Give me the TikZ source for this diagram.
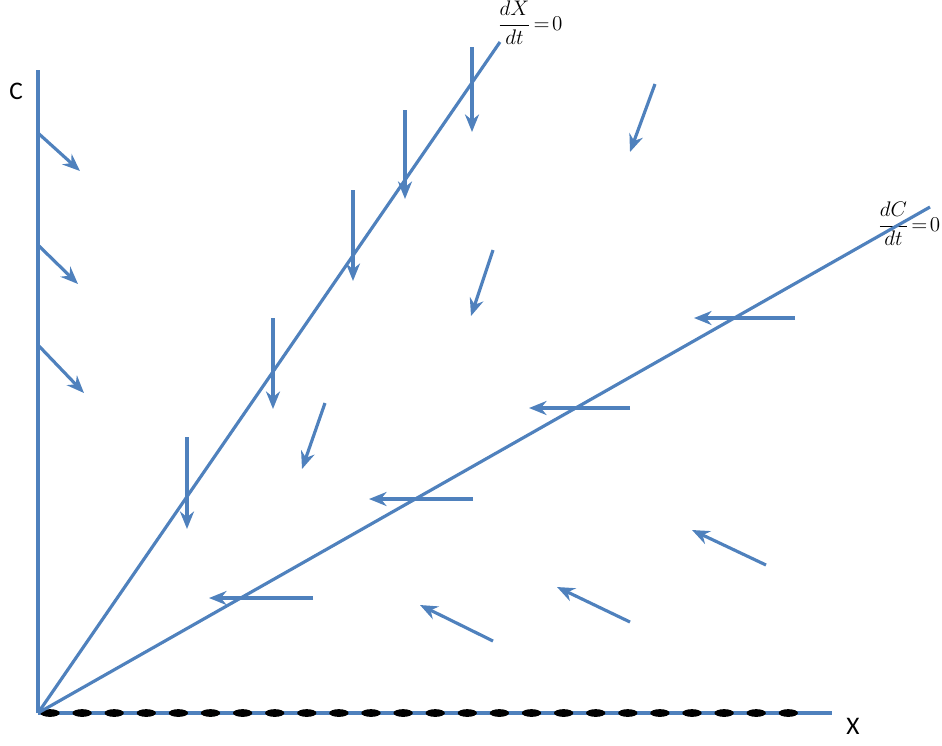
\documentclass[tikz,border=0pt]{standalone}
\usepackage{fontspec}
\setsansfont{Carlito}
\usetikzlibrary{arrows.meta, positioning, calc}
\definecolor{flow}{HTML}{4F81BD}

\begin{document}
\begin{tikzpicture}[
    x=0.02cm, y=-0.02cm,
    axis/.style={line width=2pt, flow},
    nullc/.style={line width=1.8pt, flow},
    vec/.style={-{Stealth[length=10pt, width=8pt]}, line width=1.8pt, flow},
    axlbl/.style={font=\sffamily\Large, inner sep=0pt},
    nclbl/.style={font=\large, inner sep=0pt},
]
\useasboundingbox (0,0) rectangle (942,745);

\coordinate (O) at (38,713);
\coordinate (Ctop) at (38,70);
\coordinate (Xend) at (832,713);
\coordinate (dXend) at (500,42);
\coordinate (dCend) at (930,207);

\node[axlbl] (lblC) at (16,91) {C};
\node[axlbl] (lblX) at (853,726) {X};
\node[nclbl] (lbldX) at (530,23) {$\displaystyle\frac{dX}{dt}\!=\!0$};
\node[nclbl] (lbldC) at (909,224) {$\displaystyle\frac{dC}{dt}\!=\!0$};

% ── Axes ──────
\draw[axis] (O) -- (Ctop);
\draw[axis] (O) -- (Xend);
\foreach \i in {0,...,23}
    \fill ({50+32.1*\i},713) ellipse [x radius=5.5pt, y radius=2.2pt];

% ── Nullclines ──────
\draw[nullc] (O) -- (dXend);
\draw[nullc] (O) -- (dCend);

% ── Flow on the C axis ──────
\coordinate (a1s) at (38,133);  \coordinate (a1e) at (80,171);
\coordinate (a2s) at (38,245);  \coordinate (a2e) at (78,284);
\coordinate (a3s) at (38,345);  \coordinate (a3e) at (84,393);
\draw[vec] (a1s) -- (a1e);
\draw[vec] (a2s) -- (a2e);
\draw[vec] (a3s) -- (a3e);

% ── Flow across dX/dt=0 ──────
\coordinate (b1s) at (472,47);  \coordinate (b1e) at (472,132);
\coordinate (b2s) at (405,110); \coordinate (b2e) at (405,199);
\coordinate (b3s) at (353,190); \coordinate (b3e) at (353,281);
\coordinate (b4s) at (273,318); \coordinate (b4e) at (273,409);
\coordinate (b5s) at (187,437); \coordinate (b5e) at (187,529);
\draw[vec] (b1s) -- (b1e);
\draw[vec] (b2s) -- (b2e);
\draw[vec] (b3s) -- (b3e);
\draw[vec] (b4s) -- (b4e);
\draw[vec] (b5s) -- (b5e);

% ── Flow between the nullclines ──────
\coordinate (c1s) at (655,84);  \coordinate (c1e) at (630,152);
\coordinate (c2s) at (493,250); \coordinate (c2e) at (471,316);
\coordinate (c3s) at (325,403); \coordinate (c3e) at (302,469);
\draw[vec] (c1s) -- (c1e);
\draw[vec] (c2s) -- (c2e);
\draw[vec] (c3s) -- (c3e);

% ── Flow across dC/dt=0 ──────
\coordinate (d1s) at (795,318); \coordinate (d1e) at (694,318);
\coordinate (d2s) at (630,408); \coordinate (d2e) at (529,408);
\coordinate (d3s) at (473,499); \coordinate (d3e) at (369,499);
\coordinate (d4s) at (313,598); \coordinate (d4e) at (209,598);
\draw[vec] (d1s) -- (d1e);
\draw[vec] (d2s) -- (d2e);
\draw[vec] (d3s) -- (d3e);
\draw[vec] (d4s) -- (d4e);

% ── Flow below dC/dt=0 ──────
\coordinate (e1s) at (766,565); \coordinate (e1e) at (692,530);
\coordinate (e2s) at (630,622); \coordinate (e2e) at (557,587);
\coordinate (e3s) at (493,641); \coordinate (e3e) at (420,605);
\draw[vec] (e1s) -- (e1e);
\draw[vec] (e2s) -- (e2e);
\draw[vec] (e3s) -- (e3e);

\end{tikzpicture}
\end{document}
